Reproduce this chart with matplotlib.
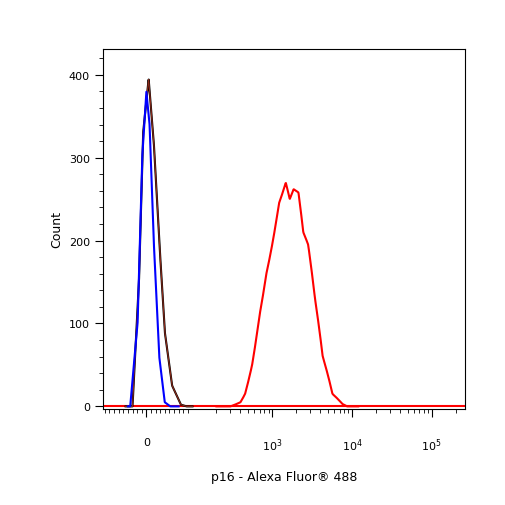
import numpy as np
import matplotlib
matplotlib.use("Agg")
import matplotlib.pyplot as plt
from matplotlib.ticker import FixedLocator

# histogram traces (fluorescence value, count)
blue_x = [-40, -35, -19, -9, 0, 7, 16, 28, 40, 52, 70]
blue_y = [0, 0, 100, 300, 380, 340, 200, 60, 5, 0, 0]
black_x = [-45, -30, -16, -7, 5, 16, 28, 40, 56, 75, 87, 100]
black_y = [0, 0, 150, 330, 395, 320, 200, 90, 25, 2, 0, 0]
red_x = [200, 300, 400, 457, 560, 694, 845, 1000, 1217, 1480, 1660, 1855, 2134, 2455, 2825, 3440, 4300, 5700, 7560, 8700, 12000]
red_y = [0, 0, 5, 15, 50, 110, 160, 195, 245, 270, 250, 262, 258, 210, 195, 130, 60, 15, 3, 0, 0]

def smooth(xs, ys, n=300):
    t = np.linspace(0, len(xs) - 1, n)
    return np.interp(t, np.arange(len(xs)), xs), np.interp(t, np.arange(len(xs)), ys)

fig = plt.figure(figsize=(5.06, 5.06), dpi=100)
ax = fig.add_axes([0.2036, 0.19, 0.715, 0.711])
ax.set_xscale("symlog", linthresh=100, linscale=0.52)

ax.plot([-94, 2.6e5], [0, 0], color="red", lw=1.5)
ax.plot(*smooth(red_x, red_y), color="red", lw=1.5)
ax.plot(*smooth(black_x, black_y), color="black", lw=1.5)
ax.plot(*smooth(black_x, black_y), color="#8b2a1a", lw=0.8)
ax.plot(*smooth(blue_x, blue_y), color="blue", lw=1.5)

ax.set_xlim(-94, 2.6e5)
ax.set_ylim(-3, 431)

ax.set_xticks([0, 1e3, 1e4, 1e5])
ax.set_xticklabels(["0", "$10^3$", "$10^4$", "$10^5$"], fontsize=8)
minors = [-90, -80, -70, -60, -50, -40, -30, -20, -10, 10, 20, 30, 40, 50, 60, 70, 80, 90]
for d in [100, 1000, 10000, 100000]:
    minors += [k * d for k in range(2, 10) if k * d < 2.6e5]
ax.xaxis.set_minor_locator(FixedLocator(minors))
ax.xaxis.set_minor_formatter(plt.NullFormatter())
ax.tick_params(axis="x", which="major", length=6, pad=14)
ax.tick_params(axis="x", which="minor", length=3)

ax.set_yticks([0, 100, 200, 300, 400])
ax.set_yticklabels(["0", "100", "200", "300", "400"], fontsize=8)
ax.yaxis.set_minor_locator(FixedLocator(np.arange(20, 431, 20)))
ax.tick_params(axis="y", which="major", length=6)
ax.tick_params(axis="y", which="minor", length=3)

ax.set_ylabel("Count", fontsize=9)
ax.set_xlabel("p16 - Alexa Fluor\u00ae 488", fontsize=9, labelpad=12)

fig.savefig("out.png", dpi=100)
